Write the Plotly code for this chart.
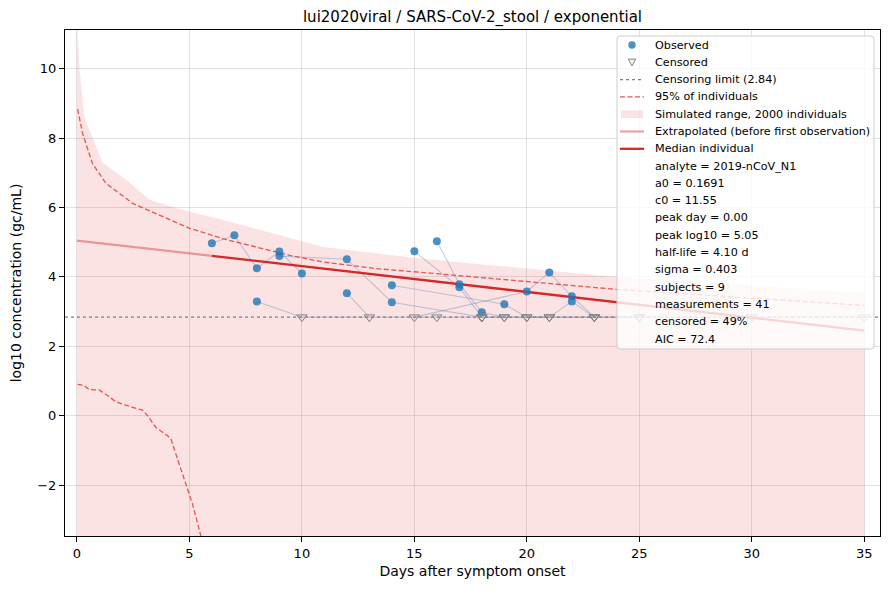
import plotly.graph_objects as go

title_text = "lui2020viral / SARS-CoV-2_stool / exponential"
x_label = "Days after symptom onset"
y_label = "log10 concentration (gc/mL)"
censor_limit = 2.84

# observed measurements (subject id, day, log10 value)
obs_subject = [1, 1, 1, 1, 1, 2, 3, 3, 3, 4, 5, 5, 5, 6, 6, 7, 7, 7, 8, 8, 8]
obs_day = [6, 7, 8, 9, 10, 8, 9, 12, 14, 12, 14, 19, 22, 15, 17, 16, 17, 18, 20, 21, 22]
obs_value = [4.97, 5.20, 4.25, 4.73, 4.10, 3.29, 4.60, 4.51, 3.27, 3.53, 3.76, 3.21, 3.29,
             4.74, 3.70, 5.03, 3.79, 2.98, 3.58, 4.13, 3.44]

# censored measurements (below limit)
cens_subject = [2, 2, 2, 3, 4, 5, 5, 5, 6, 7, 8, 8, 9, 9, 9, 9, 9, 9, 9, 9]
cens_day = [10, 16, 25, 18, 13, 20, 21, 23, 18, 19, 15, 23, 18, 19, 20, 21, 23, 25, 30, 35]

# model curves
median_day = [6, 35]
median_value = [4.61, 2.45]
extrap_day = [0, 6]
extrap_value = [5.05, 4.61]

upper95_day = [0.03, 0.25, 0.69, 1.29, 2.48, 3.96, 5.02, 6.5, 7.99, 9.47, 10.95, 13.3, 15.7, 24.0, 35.0]
upper95_value = [8.84, 8.14, 7.27, 6.70, 6.12, 5.69, 5.40, 5.10, 4.86, 4.62, 4.43, 4.24, 4.11, 3.64, 3.18]

lower95_day = [0.03, 0.33, 0.55, 0.99, 1.36, 1.73, 2.47, 2.92, 3.14, 3.51, 4.03, 4.18, 4.40, 4.85, 5.14, 5.51, 5.75]
lower95_value = [0.90, 0.87, 0.75, 0.74, 0.58, 0.40, 0.24, 0.16, 0.00, -0.34, -0.58, -0.67, -1.11, -2.02, -2.55, -3.47, -4.2]

band_hi_day = [0, 0.04, 0.12, 0.32, 0.59, 1.14, 2.22, 3.21, 4.0, 5.0, 6.18, 8.0, 10.96, 15.25, 18.8, 24.0, 30, 35]
band_hi_value = [11.4, 10.75, 9.97, 8.63, 8.19, 7.29, 6.79, 6.23, 6.07, 5.88, 5.70, 5.38, 4.86, 4.53, 4.31, 4.0, 3.75, 3.55]
band_lo_day = [0, 0.12, 35]
band_lo_value = [-1.64, -40, -40]

x_ticks = [0, 5, 10, 15, 20, 25, 30, 35]
y_ticks = [-2, 0, 2, 4, 6, 8, 10]

legend_entries = ["Observed", "Censored", "Censoring limit (2.84)", "95% of individuals",
                  "Simulated range, 2000 individuals", "Extrapolated (before first observation)",
                  "Median individual"]
stats_lines = ["analyte = 2019-nCoV_N1", "a0 = 0.1691", "c0 = 11.55", "peak day = 0.00",
               "peak log10 = 5.05", "half-life = 4.10 d", "sigma = 0.403", "subjects = 9",
               "measurements = 41", "censored = 49%", "AIC = 72.4"]

FONT = "DejaVu Sans"
BAND = "rgba(235,90,90,0.17)"
RED = "#d62728"
DASH_RED = "rgba(224,60,60,0.85)"
BLUE = "rgba(31,119,180,0.8)"
LINK = "rgba(80,120,180,0.35)"
GRAY = "#7f7f7f"

fig = go.Figure()

# simulated band
fig.add_trace(go.Scatter(
    x=band_hi_day + band_lo_day[::-1], y=band_hi_value + band_lo_value[::-1],
    fill="toself", fillcolor=BAND, line=dict(width=0), mode="lines",
    hoverinfo="skip", showlegend=False))

# subject connecting lines
subjects = sorted(set(obs_subject) | set(cens_subject))
for s in subjects:
    pts = [(d, v) for sub, d, v in zip(obs_subject, obs_day, obs_value) if sub == s]
    pts += [(d, censor_limit) for sub, d in zip(cens_subject, cens_day) if sub == s]
    pts.sort()
    fig.add_trace(go.Scatter(x=[p[0] for p in pts], y=[p[1] for p in pts], mode="lines",
                             line=dict(color=LINK, width=1.1), hoverinfo="skip", showlegend=False))

# 95% lines
fig.add_trace(go.Scatter(x=upper95_day, y=upper95_value, mode="lines",
                         line=dict(color=DASH_RED, width=1.3, dash="5px,2.5px"), showlegend=False))
fig.add_trace(go.Scatter(x=lower95_day, y=lower95_value, mode="lines",
                         line=dict(color=DASH_RED, width=1.3, dash="5px,2.5px"), showlegend=False))

# extrapolated and median
fig.add_trace(go.Scatter(x=extrap_day, y=extrap_value, mode="lines",
                         line=dict(color="rgba(214,39,40,0.42)", width=2.3), showlegend=False))
fig.add_trace(go.Scatter(x=median_day, y=median_value, mode="lines",
                         line=dict(color=RED, width=2.3), showlegend=False))

# observed / censored markers
fig.add_trace(go.Scatter(x=obs_day, y=obs_value, mode="markers",
                         marker=dict(color=BLUE, size=8, line=dict(width=0)), showlegend=False))
fig.add_trace(go.Scatter(x=cens_day, y=[censor_limit] * len(cens_day), mode="markers",
                         marker=dict(symbol="triangle-down-open", color=GRAY, size=9,
                                     line=dict(width=1)), showlegend=False))

# ---------- layout geometry (page pixels; page body has an 8px offset) ----------
OFF = 8
FIG_W, FIG_H = 890 - OFF, 590 - OFF
L, T, W, H = 65, 30, 815, 506          # plot area in page pixels
def px(x):
    return (x - L) / W
def py(y):
    return (T + H - y) / H

shapes = []
# censoring limit line
shapes.append(dict(type="line", xref="paper", yref="y", x0=0, x1=1, y0=censor_limit, y1=censor_limit,
                   line=dict(color=GRAY, width=1.3, dash="dot"), layer="above"))

# legend box with rounded corners
bx0, by0, bx1, by1, r = 617, 36, 874, 349, 3
path = (f"M {px(bx0 + r)},{py(by0)} L {px(bx1 - r)},{py(by0)} "
        f"Q {px(bx1)},{py(by0)} {px(bx1)},{py(by0 + r)} L {px(bx1)},{py(by1 - r)} "
        f"Q {px(bx1)},{py(by1)} {px(bx1 - r)},{py(by1)} L {px(bx0 + r)},{py(by1)} "
        f"Q {px(bx0)},{py(by1)} {px(bx0)},{py(by1 - r)} L {px(bx0)},{py(by0 + r)} "
        f"Q {px(bx0)},{py(by0)} {px(bx0 + r)},{py(by0)} Z")
shapes.append(dict(type="path", xref="paper", yref="paper", path=path,
                   fillcolor="rgba(255,255,255,0.8)", line=dict(color="#cccccc", width=1), layer="above"))

row0, step = 45, 17.3
rows = [row0 + i * step for i in range(len(legend_entries) + len(stats_lines))]
sx0, sx1, scx = 620, 644, 632

# observed symbol
shapes.append(dict(type="circle", xref="paper", yref="paper", x0=px(scx - 3.7), x1=px(scx + 3.7),
                   y0=py(rows[0] + 3.7), y1=py(rows[0] - 3.7), fillcolor=BLUE, line=dict(width=0),
                   layer="above"))
# censored symbol
yc = rows[1]
tri = f"M {px(scx - 3.6)},{py(yc - 3.2)} L {px(scx + 3.6)},{py(yc - 3.2)} L {px(scx)},{py(yc + 3.6)} Z"
shapes.append(dict(type="path", xref="paper", yref="paper", path=tri, fillcolor="white",
                   line=dict(color=GRAY, width=1), layer="above"))
# censoring limit
shapes.append(dict(type="line", xref="paper", yref="paper", x0=px(sx0), x1=px(sx1), y0=py(rows[2]),
                   y1=py(rows[2]), line=dict(color=GRAY, width=1.3, dash="dot"), layer="above"))
# 95%
shapes.append(dict(type="line", xref="paper", yref="paper", x0=px(sx0), x1=px(sx1), y0=py(rows[3]),
                   y1=py(rows[3]), line=dict(color=DASH_RED, width=1.3, dash="5px,2.5px"), layer="above"))
# band
shapes.append(dict(type="rect", xref="paper", yref="paper", x0=px(sx0 + 1), x1=px(sx1 - 1),
                   y0=py(rows[4] - 3.8), y1=py(rows[4] + 3.8), fillcolor=BAND, line=dict(width=0),
                   layer="above"))
# extrapolated
shapes.append(dict(type="line", xref="paper", yref="paper", x0=px(sx0), x1=px(sx1), y0=py(rows[5]),
                   y1=py(rows[5]), line=dict(color="rgba(214,39,40,0.42)", width=2.3), layer="above"))
# median
shapes.append(dict(type="line", xref="paper", yref="paper", x0=px(sx0), x1=px(sx1), y0=py(rows[6]),
                   y1=py(rows[6]), line=dict(color=RED, width=2.3), layer="above"))

annotations = []
for label, yy in zip(legend_entries + stats_lines, rows):
    annotations.append(dict(text=label, xref="paper", yref="paper", x=px(652.5), y=py(yy),
                            xanchor="left", yanchor="middle", showarrow=False,
                            font=dict(family=FONT, size=11.2, color="black")))

fig.update_layout(
    width=FIG_W, height=FIG_H,
    margin=dict(l=L - OFF, r=FIG_W - (L - OFF) - W, t=T - OFF, b=FIG_H - (T - OFF) - H, autoexpand=False),
    paper_bgcolor="white", plot_bgcolor="white",
    font=dict(family=FONT, size=13, color="black"),
    title=dict(text=title_text, x=px(472.5), xref="paper", xanchor="center",
               y=1 - (16.5 - OFF) / FIG_H, yanchor="middle",
               font=dict(family=FONT, size=15, color="black"), automargin=False),
    shapes=shapes, annotations=annotations,
    showlegend=False,
)
fig.update_xaxes(range=[-0.53, 35.7], tickvals=x_ticks, ticks="outside", ticklen=5, tickwidth=1,
                 tickcolor="black", showline=True, linecolor="black", linewidth=1, mirror=True,
                 showgrid=True, gridcolor="rgba(176,176,176,0.38)", gridwidth=1, zeroline=False,
                 automargin=False,
                 title=dict(text=x_label, font=dict(family=FONT, size=14), standoff=6),
                 tickfont=dict(family=FONT, size=13))
fig.update_yaxes(range=[-3.47, 11.12], tickvals=y_ticks, ticktext=[str(v).replace("-", "\u2212") for v in y_ticks],
                 ticks="outside", ticklen=5, tickwidth=1,
                 tickcolor="black", showline=True, linecolor="black", linewidth=1, mirror=True,
                 showgrid=True, gridcolor="rgba(176,176,176,0.38)", gridwidth=1, zeroline=False,
                 automargin=False,
                 title=dict(text=y_label, font=dict(family=FONT, size=14), standoff=12),
                 tickfont=dict(family=FONT, size=13))

fig.write_html("out.html")
